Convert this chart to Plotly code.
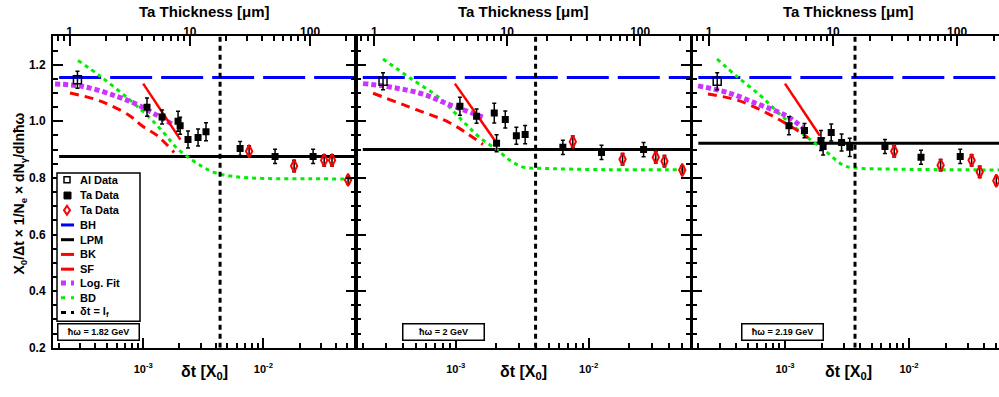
import math
import plotly.graph_objects as go

W, H = 999, 397
FONT = "Liberation Sans, Arial, sans-serif"

# ---------------- data (delta t in X0) ----------------
X0_TA_UM = 4094.0  # Ta radiation length in micrometres (top axis conversion)

dt_al = [2.84e-4]
al_y_p1 = [1.147]
al_y_p2 = [1.141]
al_y_p3 = [1.141]
al_err = [0.03]

dt_ta = [1.076e-3, 1.436e-3, 1.95e-3, 2.03e-3, 2.36e-3, 2.86e-3, 3.33e-3, 6.40e-3, 1.25e-2, 2.59e-2]
ta_y_p1 = [1.050, 1.015, 1.000, 0.984, 0.936, 0.943, 0.963, 0.904, 0.876, 0.876]
ta_y_p2 = [1.053, 1.018, 1.029, 0.922, 1.006, 0.949, 0.953, 0.908, 0.890, 0.900]
ta_y_p3 = [0.984, 0.967, 0.932, 0.911, 0.960, 0.925, 0.908, 0.911, 0.873, 0.876]
ta_err = [0.032, 0.025, 0.035, 0.030, 0.030, 0.030, 0.032, 0.025, 0.025, 0.025]

dt_tb = [7.60e-3, 1.80e-2, 3.20e-2, 3.72e-2, 5.06e-2]
tb_y_p1 = [0.894, 0.842, 0.862, 0.862, 0.793]
tb_y_p2 = [0.928, 0.866, 0.873, 0.859, 0.828]
tb_y_p3 = [0.894, 0.845, 0.862, 0.821, 0.790]
tb_err = [0.020, 0.020, 0.020, 0.020, 0.015]

line_dt = [2.0e-4, 7.0e-2]
bh_y = [1.155, 1.155, 1.155]
lpm_y = [0.876, 0.900, 0.922]
lf_dt = [4.36e-3, 3.99e-3, 3.67e-3]
photon_energy = ["1.82", "2", "2.19"]

bd_dt_p1 = [2.87e-4, 4.37e-4, 7.76e-4, 1.148e-3, 1.514e-3, 1.905e-3, 2.512e-3, 3.162e-3, 3.981e-3, 5.623e-3, 1.0e-2, 2.512e-2, 5.62e-2]
bd_y_p1 = [1.215, 1.160, 1.075, 1.010, 0.955, 0.905, 0.865, 0.838, 0.818, 0.805, 0.798, 0.797, 0.796]
bd_dt_p2 = [2.84e-4, 4.53e-4, 7.62e-4, 1.135e-3, 1.521e-3, 2.042e-3, 2.559e-3, 3.206e-3, 4.295e-3, 1.371e-2, 5.62e-2]
bd_y_p2 = [1.220, 1.153, 1.081, 1.000, 0.942, 0.900, 0.862, 0.838, 0.834, 0.829, 0.829]
bd_dt_p3 = [2.83e-4, 4.10e-4, 6.28e-4, 8.61e-4, 1.161e-3, 1.592e-3, 2.183e-3, 2.938e-3, 3.532e-3, 7.43e-3, 5.62e-2]
bd_y_p3 = [1.220, 1.158, 1.092, 1.035, 0.984, 0.936, 0.890, 0.845, 0.836, 0.831, 0.828]

fit_dt_p1 = [1.85e-4, 3.16e-4, 6.05e-4, 9.42e-4, 1.77e-3]
fit_y_p1 = [1.132, 1.123, 1.088, 1.054, 0.988]
fit_dt_p2 = [2.01e-4, 2.84e-4, 5.38e-4, 9.06e-4, 1.66e-3]
fit_y_p2 = [1.133, 1.125, 1.099, 1.058, 1.012]
fit_dt_p3 = [1.99e-4, 3.40e-4, 6.28e-4, 1.038e-3, 1.396e-3]
fit_y_p3 = [1.125, 1.102, 1.058, 1.018, 0.977]

sf_dt_p1 = [2.46e-4, 3.83e-4, 5.30e-4, 7.78e-4, 9.77e-4, 1.303e-3, 1.807e-3]
sf_y_p1 = [1.100, 1.080, 1.057, 1.019, 0.984, 0.950, 0.890]
sf_dt_p2 = [2.39e-4, 5.12e-4, 9.06e-4, 1.603e-3]
sf_y_p2 = [1.099, 1.040, 0.994, 0.918]
sf_dt_p3 = [2.39e-4, 4.10e-4, 7.16e-4, 1.161e-3, 1.531e-3]
sf_y_p3 = [1.096, 1.075, 1.029, 0.977, 0.942]

bk_dt_p1 = [1.0e-3, 2.04e-3]
bk_y_p1 = [1.133, 0.935]
bk_dt_p2 = [9.86e-4, 1.97e-3]
bk_y_p2 = [1.133, 0.932]
bk_dt_p3 = [1.0e-3, 1.91e-3]
bk_y_p3 = [1.133, 0.949]

bottom_major = [1e-3, 1e-2]
bottom_major_text = ["10<sup>-3</sup>", "10<sup>-2</sup>"]
bottom_minor = [2e-4, 3e-4, 4e-4, 5e-4, 6e-4, 7e-4, 8e-4, 9e-4,
                2e-3, 3e-3, 4e-3, 5e-3, 6e-3, 7e-3, 8e-3, 9e-3,
                2e-2, 3e-2, 4e-2, 5e-2, 6e-2]
top_major = [1, 10, 100]
top_major_text = ["1", "10", "100"]
top_minor = [0.8, 0.9, 2, 3, 4, 5, 6, 7, 8, 9, 20, 30, 40, 50, 60, 70, 80, 90, 200, 300]
y_major = [0.2, 0.4, 0.6, 0.8, 1.0, 1.2]
y_major_text = ["0.2", "0.4", "0.6", "0.8", "1.0", "1.2"]

# ---------------- layout geometry (pixels) ----------------
panel_px = [(53, 356, -3.75, -1.23), (356, 691, -3.75, -1.23), (692, 999, -3.75, -1.274)]
y_top_px, y_bot_px = 37, 354
yrange = [0.2, 1.3]

panels = [
    dict(al=al_y_p1, ta=ta_y_p1, tb=tb_y_p1, bd=(bd_dt_p1, bd_y_p1), fit=(fit_dt_p1, fit_y_p1),
         sf=(sf_dt_p1, sf_y_p1), bk=(bk_dt_p1, bk_y_p1)),
    dict(al=al_y_p2, ta=ta_y_p2, tb=tb_y_p2, bd=(bd_dt_p2, bd_y_p2), fit=(fit_dt_p2, fit_y_p2),
         sf=(sf_dt_p2, sf_y_p2), bk=(bk_dt_p2, bk_y_p2)),
    dict(al=al_y_p3, ta=ta_y_p3, tb=tb_y_p3, bd=(bd_dt_p3, bd_y_p3), fit=(fit_dt_p3, fit_y_p3),
         sf=(sf_dt_p3, sf_y_p3), bk=(bk_dt_p3, bk_y_p3)),
]

BLUE, RED, GREEN, MAG = "#0000ff", "#ff0000", "#00ee00", "#cc33ff"
D_BH = "42px,9px"
D_SF = "9px,6px"
D_FIT = "5px,3px"
D_BD = "4px,4px"
D_LF = "5px,4px"

fig = go.Figure()
off = math.log10(X0_TA_UM)

for i, p in enumerate(panels):
    n = "" if i == 0 else str(i + 1)
    xa, ya = "x" + n, "y" + n
    common = dict(xaxis=xa, yaxis=ya, showlegend=False, hoverinfo="skip")
    fig.add_trace(go.Scatter(x=line_dt, y=[bh_y[i]] * 2, mode="lines",
                             line=dict(color=BLUE, width=3, dash=D_BH), **common))
    fig.add_trace(go.Scatter(x=line_dt, y=[lpm_y[i]] * 2, mode="lines",
                             line=dict(color="black", width=3), **common))
    fig.add_trace(go.Scatter(x=p["bd"][0], y=p["bd"][1], mode="lines", line_shape="spline",
                             line=dict(color=GREEN, width=3, dash=D_BD), **common))
    fig.add_trace(go.Scatter(x=p["sf"][0], y=p["sf"][1], mode="lines", line_shape="spline",
                             line=dict(color=RED, width=3, dash=D_SF), **common))
    fig.add_trace(go.Scatter(x=p["fit"][0], y=p["fit"][1], mode="lines", line_shape="spline",
                             line=dict(color=MAG, width=5, dash=D_FIT), **common))
    fig.add_trace(go.Scatter(x=p["bk"][0], y=p["bk"][1], mode="lines",
                             line=dict(color=RED, width=2.5), **common))
    fig.add_trace(go.Scatter(x=[lf_dt[i]] * 2, y=yrange, mode="lines",
                             line=dict(color="black", width=3, dash=D_LF), **common))
    fig.add_trace(go.Scatter(x=dt_ta, y=p["ta"], mode="markers",
                             marker=dict(symbol="square", size=7, color="black"),
                             error_y=dict(type="data", array=ta_err, thickness=1.5, width=2, color="black"),
                             **common))
    fig.add_trace(go.Scatter(x=dt_tb, y=p["tb"], mode="markers",
                             marker=dict(symbol="diamond-tall-open", size=9, color=RED, line=dict(width=2, color=RED)),
                             error_y=dict(type="data", array=tb_err, thickness=1.5, width=2, color="black"),
                             **common))
    fig.add_trace(go.Scatter(x=dt_al, y=p["al"], mode="markers",
                             marker=dict(symbol="square-open", size=8, color="black", line=dict(width=1.5, color="black")),
                             error_y=dict(type="data", array=al_err, thickness=1.5, width=2, color="black"),
                             **common))
    # empty traces so that the auxiliary tick axes get drawn
    for k in (4, 7, 10):
        fig.add_trace(go.Scatter(x=[None], y=[None], xaxis="x" + str(k + i), yaxis=ya,
                                 mode="lines", showlegend=False, hoverinfo="skip"))

layout = dict(width=W, height=H, margin=dict(l=0, r=0, t=0, b=0), autosize=False,
              paper_bgcolor="white", plot_bgcolor="rgba(0,0,0,0)",
              font=dict(family=FONT, color="black", weight="bold"))

ydom = [1 - y_bot_px / H, 1 - y_top_px / H]
tick_common = dict(showgrid=False, zeroline=False, tickcolor="black", tickwidth=1.5, ticks="inside")
for i, (x0, x1, r0, r1) in enumerate(panel_px):
    n = "" if i == 0 else str(i + 1)
    # bottom axis: line, labels, long decade ticks
    layout["xaxis" + n] = dict(
        type="log", domain=[x0 / W, x1 / W], range=[r0, r1], anchor="y" + n,
        showline=True, linecolor="black", linewidth=2, ticklen=10,
        tickmode="array", tickvals=bottom_major, ticktext=bottom_major_text,
        tickfont=dict(family=FONT, size=11, color="black", weight="bold"),
        ticklabelstandoff=10, **tick_common)
    # bottom: short ticks
    layout["xaxis" + str(7 + i)] = dict(
        type="log", overlaying="x" + n, side="bottom", anchor="y" + n, range=[r0, r1],
        showline=False, ticklen=5, tickmode="array", tickvals=bottom_minor,
        showticklabels=False, **tick_common)
    # top thickness axis: line, labels, long decade ticks
    layout["xaxis" + str(4 + i)] = dict(
        type="log", overlaying="x" + n, side="top", anchor="y" + n,
        range=[r0 + off, r1 + off],
        showline=True, linecolor="black", linewidth=2, ticklen=10,
        tickmode="array", tickvals=top_major, ticktext=top_major_text,
        tickfont=dict(family=FONT, size=12, color="black", weight="bold"),
        ticklabelstandoff=-6, **tick_common)
    # top: short ticks
    layout["xaxis" + str(10 + i)] = dict(
        type="log", overlaying="x" + n, side="top", anchor="y" + n,
        range=[r0 + off, r1 + off], showline=False, ticklen=5,
        tickmode="array", tickvals=top_minor, showticklabels=False, **tick_common)
    layout["yaxis" + n] = dict(
        domain=ydom, range=yrange, anchor="x" + n,
        showline=True, linecolor="black", linewidth=2, mirror=("ticks" if i < 2 else False),
        ticklen=10, tickmode="array", tickvals=y_major, ticktext=y_major_text,
        showticklabels=(i == 0),
        tickfont=dict(family=FONT, size=12, color="black", weight="bold"), ticklabelstandoff=3,
        minor=dict(dtick=0.05, tick0=0.2, ticks="inside", ticklen=5, tickwidth=1.5,
                   tickcolor="black", showgrid=False),
        **tick_common)
fig.update_layout(**layout)


def px(x):
    return x / W


def py(y):
    return 1 - y / H


annotations = []
shapes = []


def text_at(x, y, text, size, xanchor="center", **kw):
    annotations.append(dict(x=px(x), y=py(y), xref="paper", yref="paper", showarrow=False,
                            xanchor=xanchor, yanchor="middle", text=text,
                            font=dict(family=FONT, size=size, color="black", weight="bold"), **kw))


for i, (x0, x1, r0, r1) in enumerate(panel_px):
    cx = (x0 + 1004) / 2 if i == 2 else (x0 + x1) / 2
    text_at(cx, 12, "Ta Thickness [μm]", 15)
    text_at(cx, 379, "δt [X<sub>0</sub>]", 16)

box_cx = [98.5, 443.5, 782.5]
for i, e in enumerate(photon_energy):
    text_at(box_cx[i], 338, "ħω = " + e + " GeV", 9, width=78, height=13,
            bgcolor="white", bordercolor="black", borderwidth=1.5, borderpad=1)

text_at(20, 197, "X<sub>0</sub>/Δt × 1/N<sub>e</sub> × dN<sub>γ</sub>/dlnħω", 14, textangle=-90)

# legend box
shapes.append(dict(type="rect", xref="paper", yref="paper", x0=px(57), x1=px(140), y0=py(327), y1=py(176),
                   line=dict(color="black", width=1.5), fillcolor="white", layer="above"))
leg = [("Al Data", 183, "sqo"), ("Ta Data", 199, "sq"), ("Ta Data", 214, "dia"),
       ("BH", 229, (BLUE, "solid", 3)), ("LPM", 244, ("black", "solid", 3)),
       ("BK", 259, (RED, "solid", 3)), ("SF", 274, (RED, "solid", 3)),
       ("Log. Fit", 288, (MAG, "5px,5px", 5)), ("BD", 303, (GREEN, "4px,6px", 3)),
       ("δt = l<sub>f</sub>", 318, ("black", "5px,5px", 3))]
for label, yy, kind in leg:
    text_at(78, yy, label, 11, xanchor="left")
    if kind == "sqo":
        shapes.append(dict(type="rect", xref="paper", yref="paper", x0=px(64), x1=px(70), y0=py(186), y1=py(180),
                           line=dict(color="black", width=1.5), fillcolor="white", layer="above"))
    elif kind == "sq":
        shapes.append(dict(type="rect", xref="paper", yref="paper", x0=px(64), x1=px(71), y0=py(202.5), y1=py(195.5),
                           line=dict(color="black", width=1), fillcolor="black", layer="above"))
    elif kind == "dia":
        path = "M {} {} L {} {} L {} {} L {} {} Z".format(px(67), py(209.5), px(70), py(214),
                                                            px(67), py(218.5), px(64), py(214))
        shapes.append(dict(type="path", xref="paper", yref="paper", path=path,
                           line=dict(color=RED, width=2), fillcolor="white", layer="above"))
    else:
        col, dash, wd = kind
        shapes.append(dict(type="line", xref="paper", yref="paper", x0=px(61), x1=px(74), y0=py(yy), y1=py(yy),
                           line=dict(color=col, width=wd, dash=dash), layer="above"))

fig.update_layout(annotations=annotations, shapes=shapes)
fig.write_html("out.html")
